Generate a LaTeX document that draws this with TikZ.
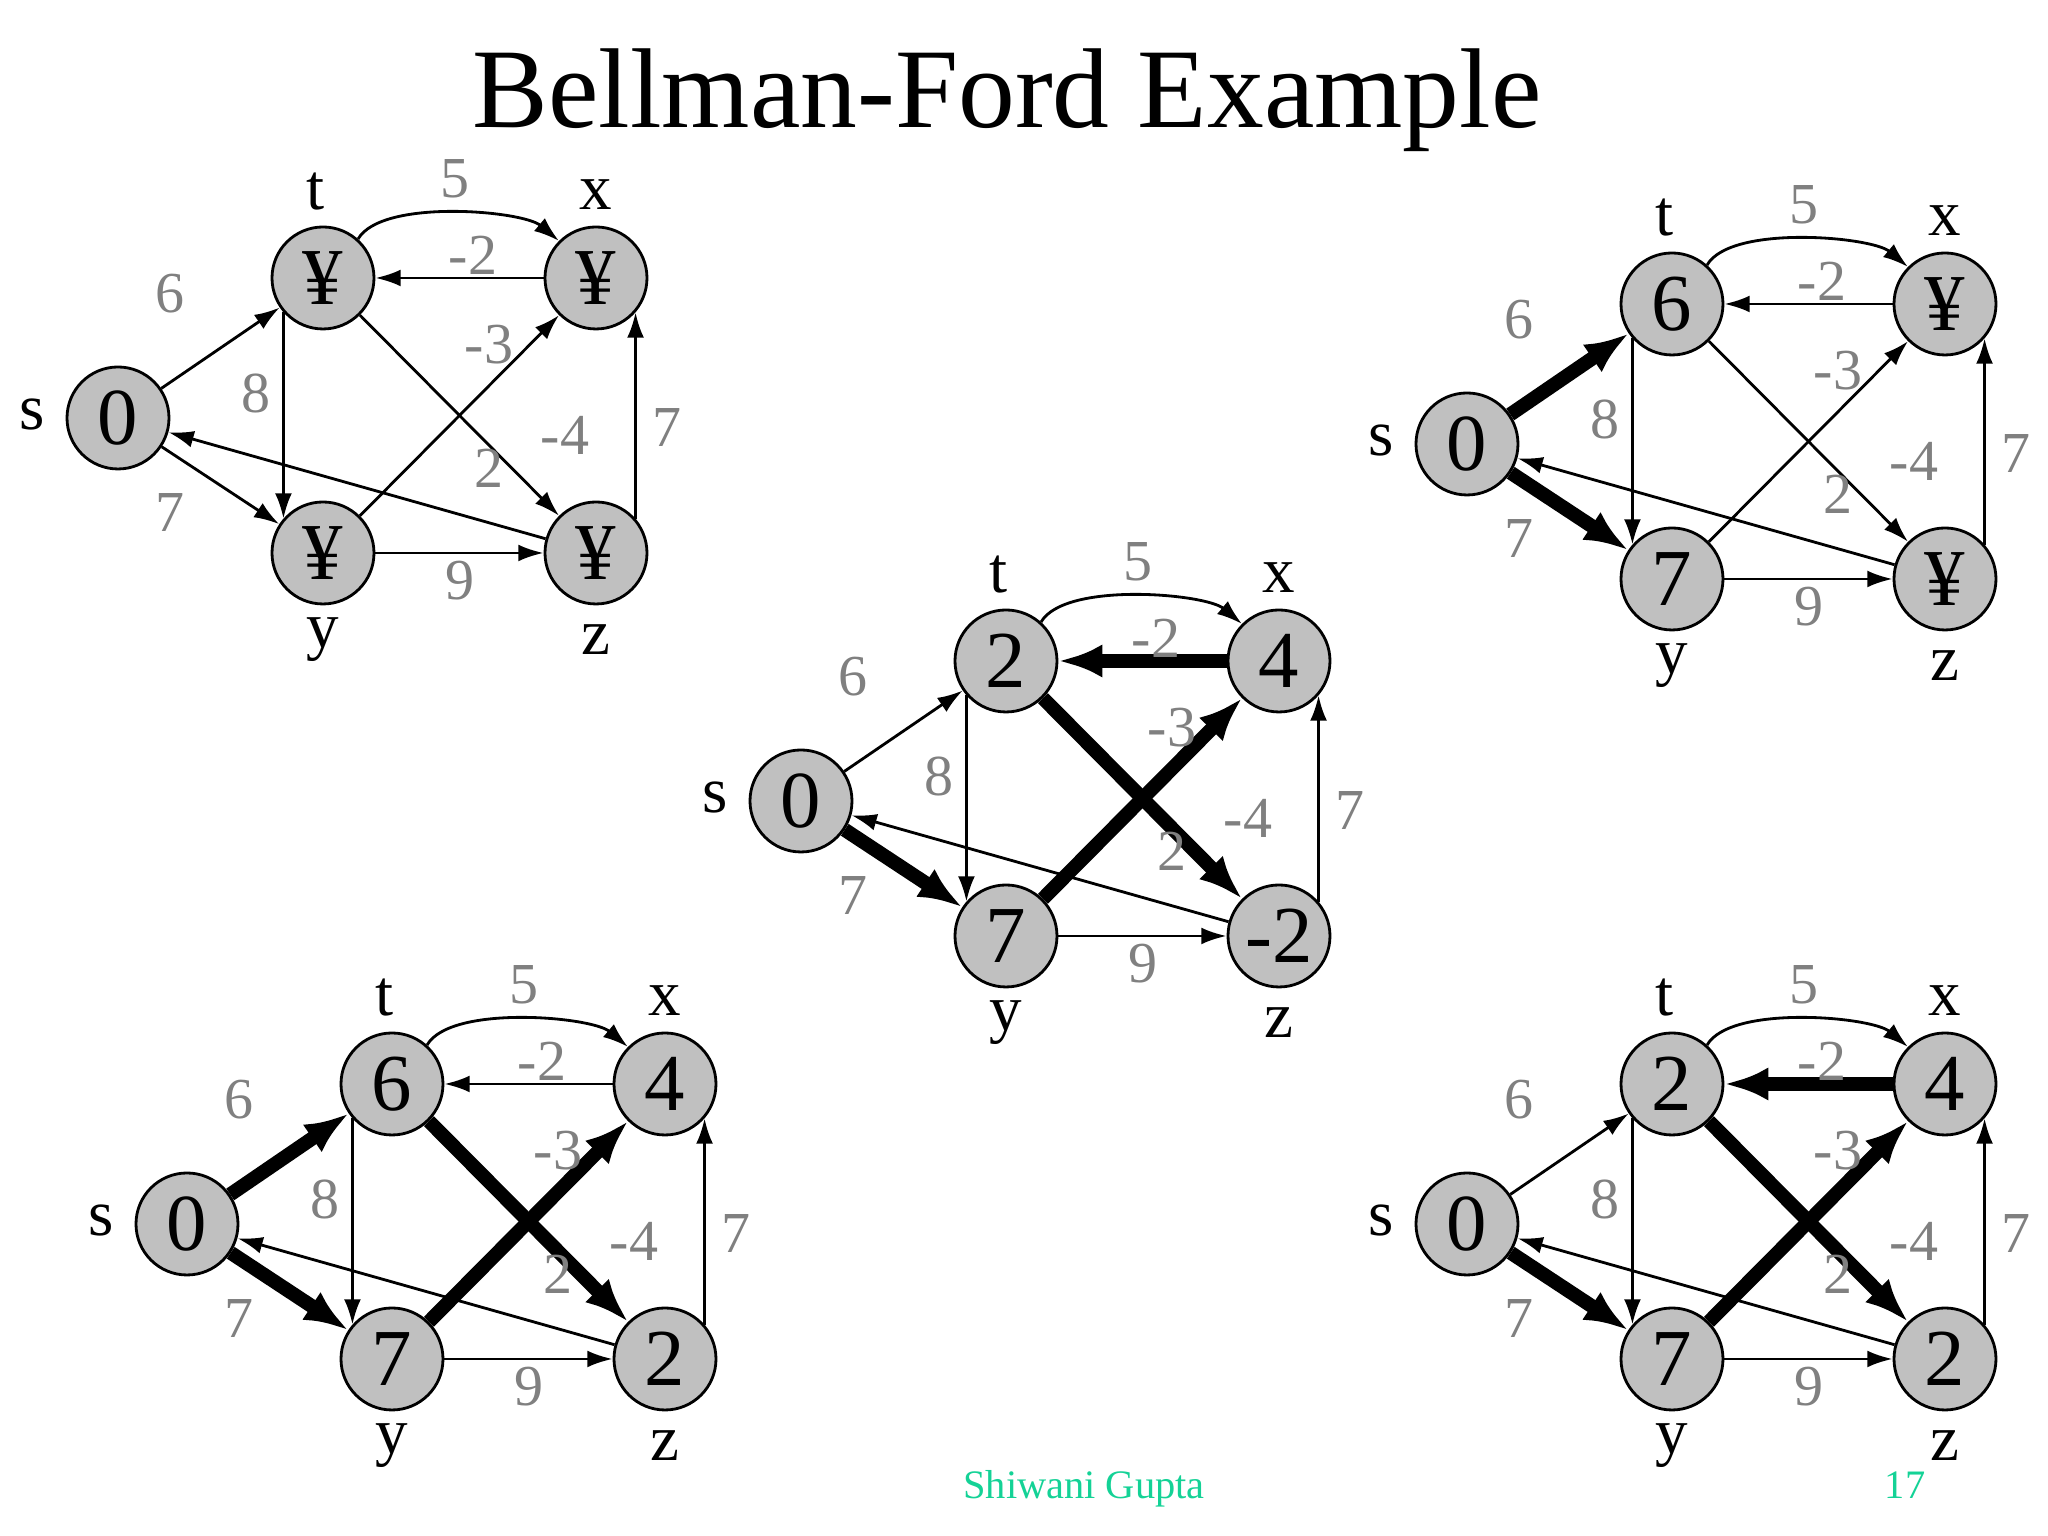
\documentclass[tikz,border=0pt]{standalone}
\usepackage{fontspec}
\setmainfont{Liberation Serif}
\usetikzlibrary{arrows.meta}
\definecolor{vertexgray}{RGB}{192,192,192}
\definecolor{weightgray}{RGB}{128,128,128}
\definecolor{footgreen}{RGB}{20,210,150}

\tikzset{
  vertex/.style={circle, draw, line width=0.8pt, fill=vertexgray, minimum size=1.02cm, inner sep=0pt, font=\fontsize{23}{23}\selectfont},
  vname/.style={font=\fontsize{18.5}{18.5}\selectfont, inner sep=0pt},
  weight/.style={font=\fontsize{16.5}{16.5}\selectfont, text=weightgray, inner sep=0pt},
  lightedge/.style={line width=0.8pt, -{Latex[length=7.2pt,width=4.8pt]}},
  heavyedge/.style={line width=4pt, -{Latex[length=12.5pt,width=9.5pt]}},
}

% #1 name, #2 position of s, #3-#7 values of s,t,x,y,z, #8 heavy edges
\newcommand{\bfgraph}[8]{%
\begin{scope}[shift={#2}, name prefix=#1-,
  e-st/.style=lightedge, e-sy/.style=lightedge, e-xt/.style=lightedge,
  e-tz/.style=lightedge, e-yx/.style=lightedge, #8]
\node[vertex] (s) at (0,0) {#3};
\node[vertex] (t) at (2.05,1.40) {#4};
\node[vertex] (x) at (4.78,1.40) {#5};
\node[vertex] (y) at (2.05,-1.35) {#6};
\node[vertex] (z) at (4.78,-1.35) {#7};
% vertex names
\node[vname] (ls) at (-0.86,0.03) {s};
\node[vname] (lt) at (1.98,2.26) {t};
\node[vname] (lx) at (4.78,2.23) {x};
\node[vname] (ly) at (2.05,-2.22) {y};
\node[vname] (lz) at (4.78,-2.22) {z};
% edges
\draw[e-st] (s) -- (t);
\draw[e-sy] (s) -- (y);
\draw[lightedge] (t.48) to[out=60, in=140, looseness=0.6] (x.135);
\draw[e-xt] (x) -- (t);
\draw[lightedge] (t.221) -- (y.139);
\draw[e-tz] (t) -- (z);
\draw[e-yx] (y) -- (x);
\draw[lightedge] (z) -- (s);
\draw[lightedge] (y) -- (z);
\draw[lightedge] (z.41) -- (x.-41);
% weights
\node[weight] (w6) at (0.52,1.24) {6};
\node[weight] (w7) at (0.52,-0.95) {7};
\node[weight] (w5) at (3.37,2.39) {5};
\node[weight] (wm2) at (3.55,1.63) {-2};
\node[weight] (w8) at (1.38,0.24) {8};
\node[weight] (wm3) at (3.71,0.73) {-3};
\node[weight] (wm4) at (4.47,-0.17) {-4};
\node[weight] (w2) at (3.71,-0.50) {2};
\node[weight] (w7r) at (5.49,-0.10) {7};
\node[weight] (w9) at (3.42,-1.63) {9};
\end{scope}}

\begin{document}
\begin{tikzpicture}
\useasboundingbox (0,0) rectangle (20.48,15.36);

\node[anchor=base, font=\fontsize{32.3}{32.3}\selectfont] (title) at (10.07,14.08) {Bellman-Ford Example};

\bfgraph{A}{(1.18,11.18)}{0}{¥}{¥}{¥}{¥}{}
\bfgraph{B}{(14.67,10.92)}{0}{6}{¥}{7}{¥}{e-st/.style=heavyedge, e-sy/.style=heavyedge}
\bfgraph{C}{(8.01,7.35)}{0}{2}{4}{7}{-2}{e-sy/.style=heavyedge, e-xt/.style=heavyedge, e-tz/.style=heavyedge, e-yx/.style=heavyedge}
\bfgraph{D}{(1.87,3.12)}{0}{6}{4}{7}{2}{e-st/.style=heavyedge, e-sy/.style=heavyedge, e-tz/.style=heavyedge, e-yx/.style=heavyedge}
\bfgraph{E}{(14.67,3.12)}{0}{2}{4}{7}{2}{e-sy/.style=heavyedge, e-xt/.style=heavyedge, e-tz/.style=heavyedge, e-yx/.style=heavyedge}

\node[anchor=base, text=footgreen, font=\fontsize{11.5}{11.5}\selectfont] (author) at (10.84,0.37) {Shiwani Gupta};
\node[anchor=base, text=footgreen, font=\fontsize{11.5}{11.5}\selectfont] (page) at (19.05,0.37) {17};
\end{tikzpicture}
\end{document}
